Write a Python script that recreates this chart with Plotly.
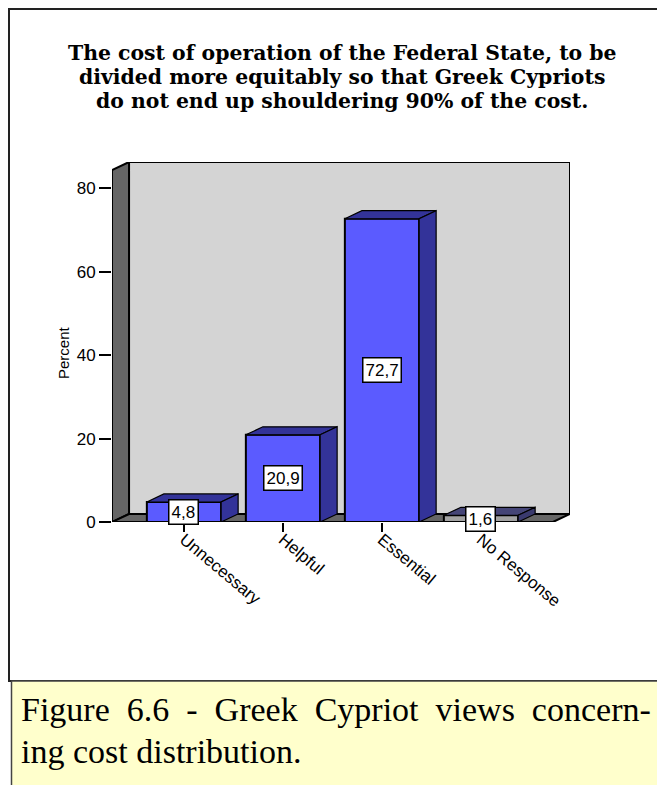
import plotly.graph_objects as go

# data
categories = ["Unnecessary", "Helpful", "Essential", "No Response"]
percent = [4.8, 20.9, 72.7, 1.6]
y_ticks = [0, 20, 40, 60, 80]

title_lines = [
    "The cost of operation of the Federal State, to be",
    "divided more equitably so that Greek Cypriots",
    "do not end up shouldering 90% of the cost.",
]
caption_lines = [
    "Figure 6.6 - Greek Cypriot views concern-",
    "ing cost distribution.",
]

front_colors = ["#5b5bff", "#5b5bff", "#5b5bff", "#a3a3a3"]
top_colors = ["#333399", "#333399", "#333399", "#454577"]
side_colors = ["#333399", "#333399", "#333399", "#3a3a6e"]

OFF = 8                      # page body margin around the plot div
W, H = 665 - OFF, 785 - OFF
L, T, PW, PH = 112 - OFF, 162 - OFF, 458, 360  # plot area

BAR_W = 0.75
DX, DY = 0.172, 1.92          # 3d depth offset in data units
X0, X1 = -0.727, 3.727        # front edge of the floor
XMAX = X1 + DX
YMAX = 86.3


def px(x):
    # page pixel -> paper x
    return (x - OFF - L) / PW


def py(y):
    # page pixel -> paper y
    return (T + PH - (y - OFF)) / PH


fig = go.Figure()

# front faces
fig.add_trace(go.Bar(
    x=list(range(len(categories))),
    y=percent,
    width=BAR_W,
    marker=dict(color=front_colors, line=dict(color="black", width=2)),
    hoverinfo="skip",
))

# tops and sides of the bars
for i, v in enumerate(percent):
    xl, xr = i - BAR_W / 2, i + BAR_W / 2
    fig.add_trace(go.Scatter(
        x=[xl, xl + DX, xr + DX, xr, xl],
        y=[v, v + DY, v + DY, v, v],
        fill="toself", fillcolor=top_colors[i], mode="lines",
        line=dict(color="black", width=1.2), hoverinfo="skip",
    ))
    fig.add_trace(go.Scatter(
        x=[xr, xr, xr + DX, xr + DX, xr],
        y=[0, v, v + DY, DY, 0],
        fill="toself", fillcolor=side_colors[i], mode="lines",
        line=dict(color="black", width=1.2), hoverinfo="skip",
    ))

# walls and floor
wall_line = dict(color="black", width=2)
fig.add_shape(type="path", layer="below", xref="x", yref="y",
              path=f"M {X0+DX},{DY} L {X0+DX},{YMAX} L {XMAX},{YMAX} L {XMAX},{DY} Z",
              fillcolor="#d4d4d4", line=wall_line)
fig.add_shape(type="path", layer="below", xref="x", yref="y",
              path=f"M {X0},0 L {X0},{YMAX-DY} L {X0+DX},{YMAX} L {X0+DX},{DY} Z",
              fillcolor="#666666", line=wall_line)
fig.add_shape(type="path", layer="below", xref="x", yref="y",
              path=f"M {X0},0 L {X1},0 L {XMAX},{DY} L {X0+DX},{DY} Z",
              fillcolor="#666666", line=wall_line)

# value labels
for i, v in enumerate(percent):
    fig.add_annotation(
        x=i, y=v / 2, xref="x", yref="y",
        text=f"{v:.1f}".replace(".", ","), showarrow=False,
        font=dict(family="Liberation Sans", size=17, color="black"),
        bgcolor="white", bordercolor="black", borderwidth=1.5, borderpad=2,
    )

# frame and caption box
fig.add_shape(type="rect", xref="paper", yref="paper",
              x0=px(9), y0=py(681), x1=px(690), y1=py(9),
              line=dict(color="#222222", width=2), fillcolor="white", layer="below")
fig.add_shape(type="rect", xref="paper", yref="paper",
              x0=px(11.5), y0=py(800), x1=px(690), y1=py(681),
              line=dict(color="#444444", width=1.5), fillcolor="#ffffcc", layer="below")

for line, yy in zip(title_lines, [53.5, 77.5, 101.5]):
    fig.add_annotation(
        xref="paper", yref="paper", x=px(342), y=py(yy),
        xanchor="center", yanchor="middle",
        text="<b>" + line + "</b>", showarrow=False,
        font=dict(family="DejaVu Serif", size=20.4, color="black"),
    )
fig.add_annotation(
    xref="paper", yref="paper", x=px(63), y=py(353),
    xanchor="center", yanchor="middle",
    text="Percent", textangle=-90, showarrow=False,
    font=dict(family="Liberation Sans", size=15, color="black"),
)
# first caption line is justified in the reference: widen its word gaps
caption_text = [caption_lines[0].replace(" ", "  "), caption_lines[1]]
for line, yy in zip(caption_text, [709, 751]):
    fig.add_annotation(
        xref="paper", yref="paper", x=px(19), y=py(yy),
        xanchor="left", yanchor="middle",
        text=line, showarrow=False,
        font=dict(family="Liberation Serif", size=34, color="black"),
    )

fig.update_layout(
    width=W, height=H,
    margin=dict(l=L, r=W - L - PW, t=T, b=H - T - PH),
    paper_bgcolor="white", plot_bgcolor="rgba(0,0,0,0)",
    showlegend=False,
)
fig.update_xaxes(
    range=[X0, XMAX], tickvals=list(range(len(categories))), ticktext=categories,
    tickangle=40, ticks="outside", ticklen=9, tickwidth=2, tickcolor="black",
    ticklabelstandoff=-9,
    showgrid=False, zeroline=False, showline=False,
    tickfont=dict(family="Liberation Sans", size=17, color="black"),
)
fig.update_yaxes(
    range=[0, YMAX], tickvals=y_ticks, ticks="outside", ticklen=12, tickwidth=2,
    tickcolor="black", showgrid=False, zeroline=False, showline=False,
    tickfont=dict(family="Liberation Sans", size=17, color="black"),
)

fig.write_html("out.html")
